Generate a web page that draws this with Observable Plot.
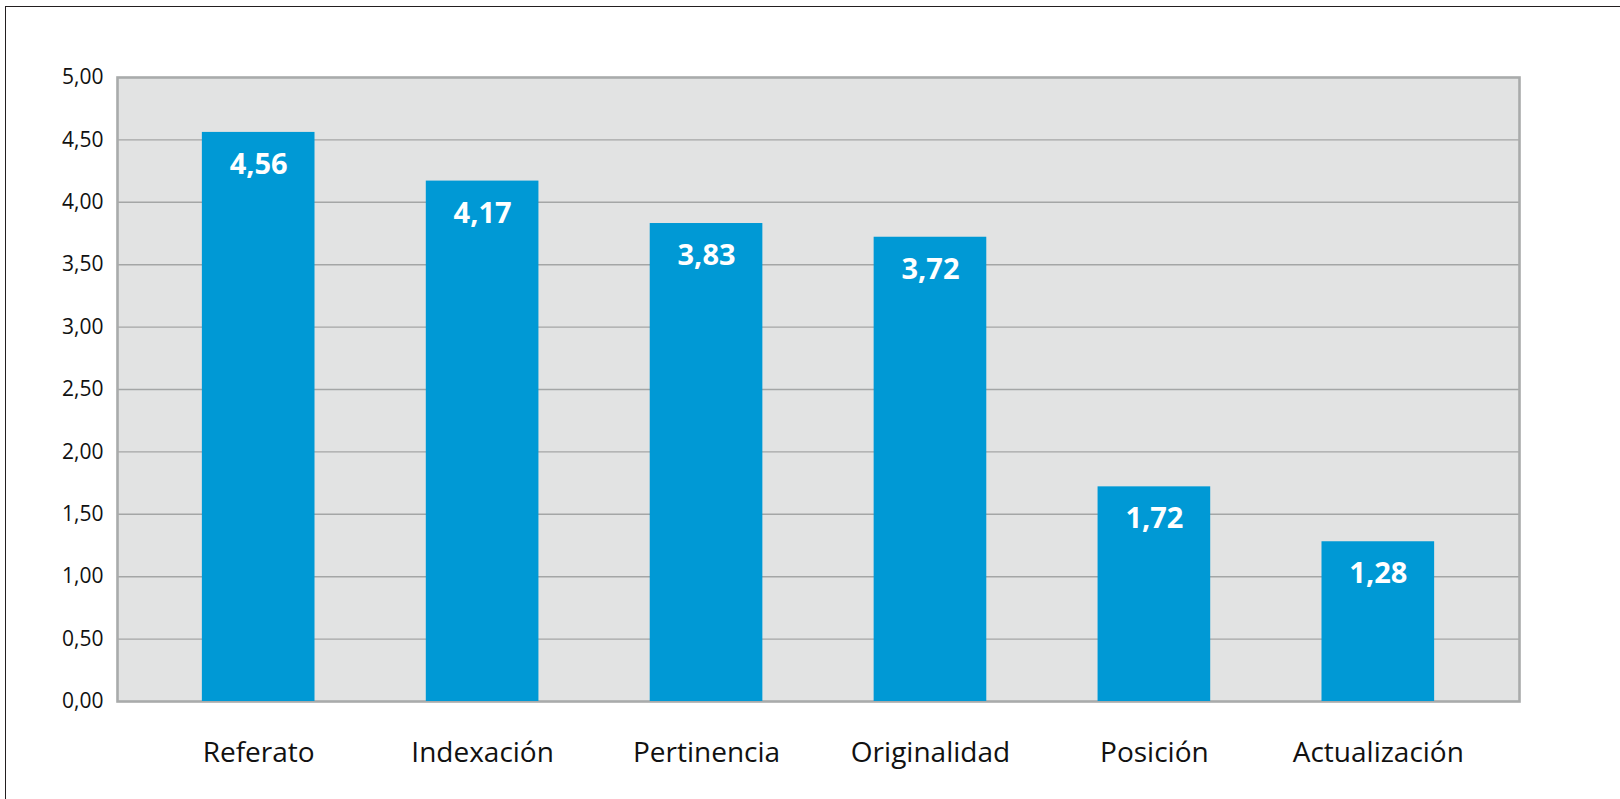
<!DOCTYPE html>
<html>
<head>
<meta charset="utf-8">
<script src="https://cdn.jsdelivr.net/npm/d3@7"></script>
<script src="https://cdn.jsdelivr.net/npm/@observablehq/plot@0.6"></script>
<style>
  html, body { margin: 0; padding: 0; background: #fff; }
  #wrap { position: relative; width: 1620px; height: 799px; overflow: hidden; }
  #border { position: absolute; left: 5px; top: 6px; width: 1700px; height: 900px;
            border-left: 1.4px solid #231f20; border-top: 1.4px solid #231f20; pointer-events: none; }
</style>
</head>
<body>
<div id="wrap"><div id="border"></div></div>
<script>
const categories = ["Referato", "Indexación", "Pertinencia", "Originalidad", "Posición", "Actualización"];
const values = [4.56, 4.17, 3.83, 3.72, 1.72, 1.28];
const yTicks = [0, 0.5, 1, 1.5, 2, 2.5, 3, 3.5, 4, 4.5, 5];
const gridTicks = [0.5, 1, 1.5, 2, 2.5, 3, 3.5, 4, 4.5];

const data = categories.map((c, i) => ({cat: c, value: values[i]}));
const fmt = d => d.toFixed(2).replace(".", ",");

const chart = Plot.plot({
  width: 1620,
  height: 799,
  marginLeft: 117,
  marginRight: 101,
  marginTop: 77,
  marginBottom: 98,
  style: {fontFamily: "'Open Sans', sans-serif", color: "#111", background: "transparent"},
  x: {domain: categories, paddingInner: 0.497, paddingOuter: 0.379, round: false, label: null},
  y: {domain: [0, 5], label: null},
  marks: [
    Plot.frame({fill: "#e2e3e3", stroke: null}),
    Plot.ruleY(gridTicks, {stroke: "#a4a6a6", strokeWidth: 1.4}),
    Plot.frame({stroke: "#a9abab", strokeWidth: 2.6}),
    Plot.barY(data, {x: "cat", y: "value", fill: "#0099d5"}),
    Plot.text(data, {x: "cat", y: "value", text: d => fmt(d.value), fill: "#fff",
      fontWeight: "bold", fontSize: 29, lineAnchor: "top", dy: 21}),
    Plot.axisY({ticks: yTicks, tickFormat: fmt, tickSize: 0, tickPadding: 14, fontSize: 21, label: null}),
    Plot.axisX({tickSize: 0, tickPadding: 41, fontSize: 28, label: null})
  ]
});
document.getElementById("wrap").prepend(chart);
</script>
</body>
</html>
